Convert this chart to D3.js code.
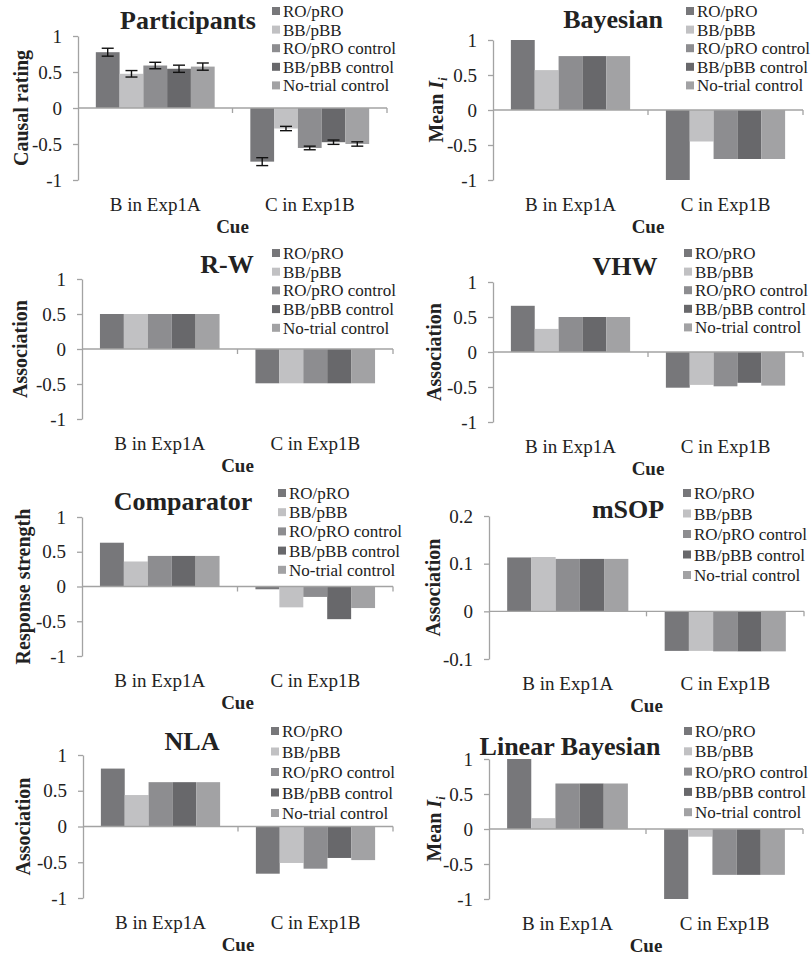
<!DOCTYPE html>
<html><head><meta charset="utf-8">
<script src="https://cdn.jsdelivr.net/npm/d3@7"></script>
<style>body{margin:0;background:#fff}svg{display:block}text{font-family:"Liberation Serif","DejaVu Serif",serif;fill:#222}</style>
</head><body>
<svg id="c" width="812" height="957"></svg>
<script>
// ---------- data ----------
const categories = ["B in Exp1A", "C in Exp1B"];
const seriesNames = ["RO/pRO", "BB/pBB", "RO/pRO control", "BB/pBB control", "No-trial control"];
const seriesColors = ["#77777a", "#c1c1c3", "#8d8d90", "#68686b", "#a2a2a4"];

const ticksUnit = [-1, -0.5, 0, 0.5, 1];
const ticksSOP = [-0.1, 0, 0.1, 0.2];

const participantsB = [0.775, 0.475, 0.59, 0.545, 0.575];
const participantsC = [-0.745, -0.285, -0.555, -0.475, -0.50];
const participantsErrB = [0.055, 0.045, 0.045, 0.05, 0.05];
const participantsErrC = [0.055, 0.03, 0.025, 0.03, 0.03];
const bayesB = [1.0, 0.57, 0.77, 0.77, 0.77];
const bayesC = [-1.0, -0.45, -0.70, -0.70, -0.70];
const rwB = [0.5, 0.5, 0.5, 0.5, 0.5];
const rwC = [-0.49, -0.49, -0.49, -0.49, -0.49];
const vhwB = [0.66, 0.33, 0.50, 0.50, 0.50];
const vhwC = [-0.51, -0.47, -0.49, -0.44, -0.48];
const compB = [0.63, 0.36, 0.44, 0.44, 0.44];
const compC = [-0.04, -0.30, -0.15, -0.47, -0.31];
const msopB = [0.113, 0.114, 0.110, 0.110, 0.110];
const msopC = [-0.083, -0.083, -0.084, -0.084, -0.084];
const nlaB = [0.81, 0.44, 0.62, 0.62, 0.62];
const nlaC = [-0.66, -0.51, -0.59, -0.44, -0.47];
const linB = [1.0, 0.155, 0.65, 0.65, 0.65];
const linC = [-1.0, -0.11, -0.655, -0.655, -0.655];

// ---------- panels ----------
const panels = [
  {title:"Participants", ylab:"Causal rating", vals:[participantsB, participantsC], errs:[participantsErrB, participantsErrC], ticks:ticksUnit,
   x0:78, x1:387, yT:36, yB:180, tx:188, ty:29, lx:272, ly:11, ls:18.6, yl:21},
  {title:"Bayesian", ylab:"mean", vals:[bayesB, bayesC], ticks:ticksUnit,
   x0:493, x1:803, yT:40, yB:180, tx:613, ty:28, lx:686, ly:11, ls:18.6, yl:436},
  {title:"R-W", ylab:"Association", vals:[rwB, rwC], ticks:ticksUnit,
   x0:82, x1:393, yT:279, yB:419, tx:227, ty:273, lx:272, ly:253, ls:18.7, yl:20},
  {title:"VHW", ylab:"Association", vals:[vhwB, vhwC], ticks:ticksUnit,
   x0:493, x1:803, yT:282, yB:422, tx:625, ty:275, lx:684, ly:253, ls:18.6, yl:434},
  {title:"Comparator", ylab:"Response strength", vals:[compB, compC], ticks:ticksUnit,
   x0:82, x1:393, yT:517, yB:656, tx:183, ty:510, lx:278, ly:493, ls:19.2, yl:23},
  {title:"mSOP", ylab:"Association", vals:[msopB, msopC], ticks:ticksSOP,
   x0:489, x1:804, yT:516, yB:659, tx:628, ty:518, lx:683, ly:493, ls:20.5, yl:433},
  {title:"NLA", ylab:"Association", vals:[nlaB, nlaC], ticks:ticksUnit,
   x0:83, x1:393, yT:755, yB:898, tx:192, ty:750, lx:271, ly:731, ls:20.5, yl:23},
  {title:"Linear Bayesian", ylab:"mean", vals:[linB, linC], ticks:ticksUnit,
   x0:489, x1:803, yT:759, yB:899, tx:570, ty:755, lx:684, ly:731, ls:20.3, yl:434}
];

const svg = d3.select("#c");
const axisColor = "#a3a3a3";
const serif = '"Liberation Serif","DejaVu Serif",serif';

panels.forEach(p => {
  const g = svg.append("g");
  const ext = d3.extent(p.ticks);
  const y = d3.scaleLinear().domain(ext).range([p.yB, p.yT]);
  const gap = 1.5 / 6.5;
  const x = d3.scaleBand().domain(categories).range([p.x0, p.x1]).paddingInner(gap).paddingOuter(gap / 2);
  const xs = d3.scaleBand().domain(seriesNames).range([0, x.bandwidth()]);

  // bars
  categories.forEach((cat, ci) => {
    const vals = p.vals[ci];
    g.selectAll(null).data(vals).enter().append("rect")
      .attr("x", (d, i) => x(cat) + xs(seriesNames[i]))
      .attr("width", xs.bandwidth())
      .attr("y", d => Math.min(y(d), y(0)))
      .attr("height", d => Math.abs(y(d) - y(0)))
      .attr("fill", (d, i) => seriesColors[i]);
    if (p.errs) {
      const errs = p.errs[ci];
      vals.forEach((v, i) => {
        const cx = x(cat) + xs(seriesNames[i]) + xs.bandwidth() / 2;
        const e = errs[i];
        const eg = g.append("g").attr("stroke", "#111").attr("stroke-width", 1.4);
        eg.append("line").attr("x1", cx).attr("x2", cx).attr("y1", y(v - e)).attr("y2", y(v + e));
        eg.append("line").attr("x1", cx - 6).attr("x2", cx + 6).attr("y1", y(v - e)).attr("y2", y(v - e));
        eg.append("line").attr("x1", cx - 6).attr("x2", cx + 6).attr("y1", y(v + e)).attr("y2", y(v + e));
      });
    }
  });

  // y axis
  const ya = g.append("g").attr("transform", `translate(${p.x0},0)`)
    .call(d3.axisLeft(y).tickValues(p.ticks).tickSize(5).tickSizeOuter(0).tickPadding(11).tickFormat(d => String(d)));
  ya.select(".domain").attr("stroke", axisColor).attr("stroke-width", 1.3);
  ya.selectAll(".tick line").attr("stroke", axisColor).attr("stroke-width", 1.3);
  ya.selectAll(".tick text").style("font-family", serif).style("font-size", "19px").attr("fill", "#222");

  // x axis line at zero
  const y0 = y(0);
  g.append("line").attr("x1", p.x0).attr("x2", p.x1).attr("y1", y0).attr("y2", y0).attr("stroke", axisColor).attr("stroke-width", 1.3);
  const bounds = categories.map((c, i) => p.x0 + (i + 1) * x.step());
  g.selectAll(null).data(bounds).enter().append("line")
    .attr("x1", d => d).attr("x2", d => d).attr("y1", y0).attr("y2", y0 + 5)
    .attr("stroke", axisColor).attr("stroke-width", 1.3);

  // category labels
  g.selectAll(null).data(categories).enter().append("text")
    .attr("x", d => x(d) + x.bandwidth() / 2).attr("y", p.yB + 31)
    .attr("text-anchor", "middle").style("font-size", "19px").text(d => d);

  // Cue
  g.append("text").attr("x", (p.x0 + p.x1) / 2).attr("y", p.yB + 53)
    .attr("text-anchor", "middle").style("font-size", "19px").style("font-weight", "bold").text("Cue");

  // title
  g.append("text").attr("x", p.tx).attr("y", p.ty).attr("text-anchor", "middle")
    .style("font-size", "26px").style("font-weight", "bold").text(p.title);

  // y label
  const yl = g.append("text").attr("transform", `translate(${p.yl},${(p.yT + p.yB) / 2}) rotate(-90)`)
    .attr("text-anchor", "middle").attr("dy", "0.35em").style("font-size", "20px").style("font-weight", "bold");
  if (p.ylab === "mean") {
    yl.append("tspan").text("Mean ");
    yl.append("tspan").style("font-style", "italic").text("I");
    yl.append("tspan").style("font-style", "italic").style("font-size", "12px").attr("dy", "4").text("i");
  } else {
    yl.text(p.ylab);
  }

  // legend
  const lg = g.append("g");
  seriesNames.forEach((s, i) => {
    const cy = p.ly + i * p.ls;
    lg.append("rect").attr("x", p.lx).attr("y", cy - 4).attr("width", 8).attr("height", 8).attr("fill", seriesColors[i]);
    lg.append("text").attr("x", p.lx + 11).attr("y", cy + 6).style("font-size", "17px").text(s);
  });
});
</script>
</body></html>
